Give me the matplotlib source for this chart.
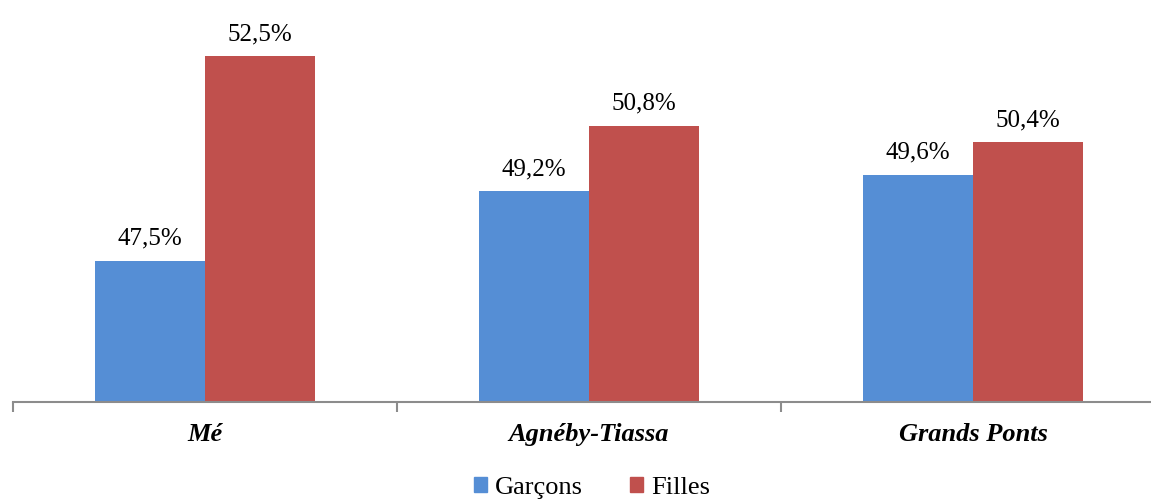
import matplotlib
matplotlib.use("Agg")
import matplotlib.pyplot as plt
import numpy as np
from matplotlib.patches import Patch

regions = ["Mé", "Agnéby-Tiassa", "Grands Ponts"]
garcons = [47.5, 49.2, 49.6]
filles = [52.5, 50.8, 50.4]
labels_g = ["47,5%", "49,2%", "49,6%"]
labels_f = ["52,5%", "50,8%", "50,4%"]

BLUE = "#558ED5"
RED = "#C0504D"
GREY = "#8C8C8C"

plt.rcParams["font.family"] = ["Liberation Serif", "DejaVu Serif"]

fig = plt.figure(figsize=(11.51, 5.0), dpi=100)
# axis line at y=402 px, left edge at x=13, category width 384 px
ax = fig.add_axes([13 / 1151, 1 - 402 / 500, 1152 / 1151, 402 / 500])

x = np.arange(len(regions))
w = 0.286
bg = ax.bar(x - w / 2, garcons, w, color=BLUE, label="Garçons")
bf = ax.bar(x + w / 2, filles, w, color=RED, label="Filles")

for rect, lab in zip(bg, labels_g):
    ax.annotate(lab, (rect.get_x() + rect.get_width() / 2, rect.get_height()),
                xytext=(0, 8), textcoords="offset points", ha="center", va="bottom", fontsize=18)
for rect, lab in zip(bf, labels_f):
    ax.annotate(lab, (rect.get_x() + rect.get_width() / 2, rect.get_height()),
                xytext=(0, 8), textcoords="offset points", ha="center", va="bottom", fontsize=18)

ax.set_ylim(44.06, 53.87)
ax.set_xlim(-0.5, len(regions) - 0.5)

for s in ["top", "right", "left"]:
    ax.spines[s].set_visible(False)
ax.spines["bottom"].set_color(GREY)
ax.spines["bottom"].set_linewidth(1.5)
ax.set_yticks([])

ax.set_xticks(np.arange(len(regions) + 1) - 0.5)
ax.set_xticklabels([])
ax.tick_params(axis="x", direction="out", length=7, width=1.5, color=GREY)
ax.set_xticks(x, minor=True)
ax.set_xticklabels(regions, minor=True, fontsize=19, fontweight="bold", fontstyle="italic")
ax.tick_params(axis="x", which="minor", length=0, pad=15)

handles = [Patch(color=BLUE, label="Garçons"), Patch(color=RED, label="Filles")]
fig.legend(handles=handles, loc="center", bbox_to_anchor=(592 / 1151, 1 - 488 / 500),
           ncol=2, frameon=False, fontsize=19, handlelength=0.5, handleheight=0.5,
           handletextpad=0.3, columnspacing=1.8, borderaxespad=0)

fig.savefig("out.png", dpi=100)
